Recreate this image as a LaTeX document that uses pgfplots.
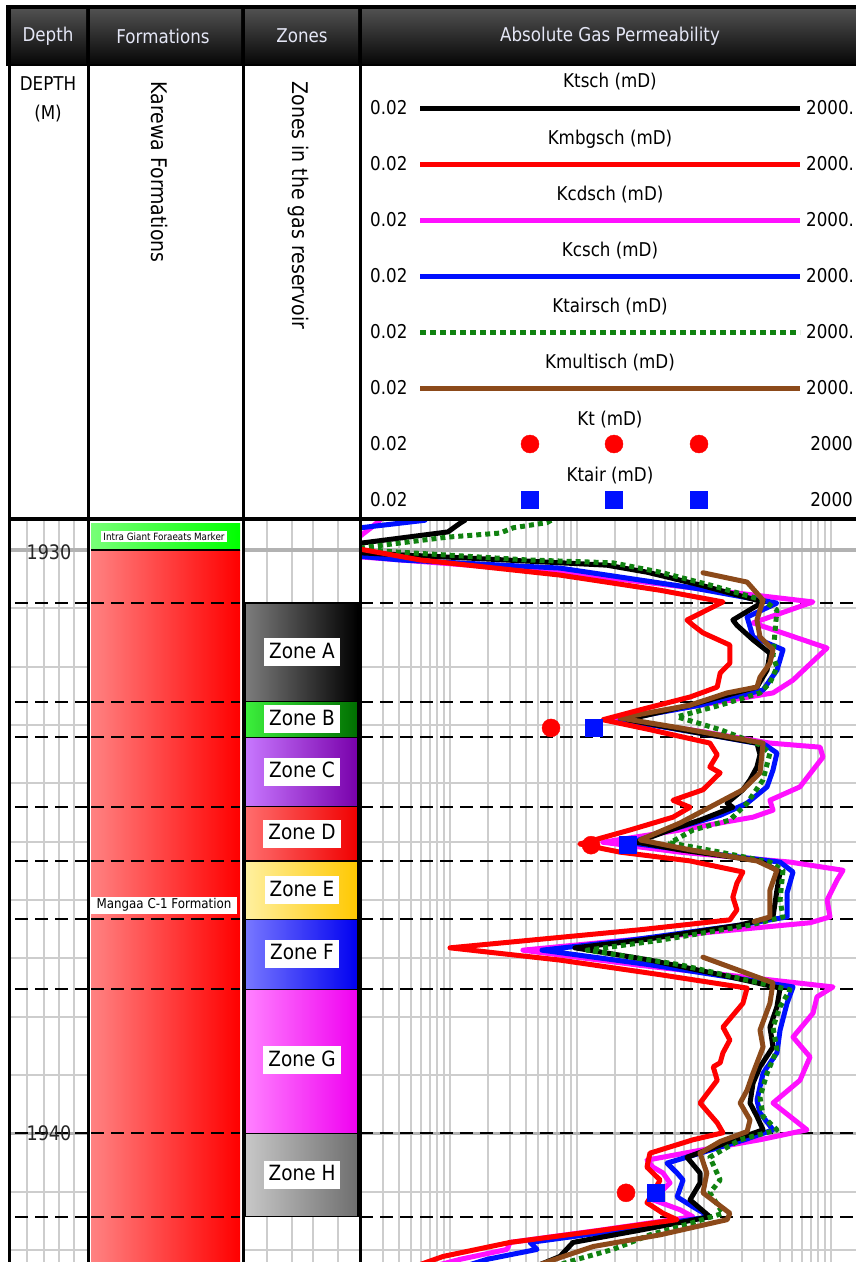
\documentclass[border=0pt]{standalone}
\usepackage{fontspec}
\setmainfont{DejaVu Sans}[FakeStretch=0.88]
\usepackage{pgfplots}
\pgfplotsset{compat=1.18}
\definecolor{gridgray}{RGB}{205,205,205}
\definecolor{gridthick}{RGB}{178,178,178}
\definecolor{kgreen}{RGB}{16,130,16}
\definecolor{kbrown}{RGB}{140,74,26}
\definecolor{kblue}{RGB}{0,16,255}
\definecolor{kmag}{RGB}{255,16,255}
\definecolor{kred}{RGB}{255,0,0}
\definecolor{hdtop}{RGB}{80,80,80}
\definecolor{hdbot}{RGB}{8,8,8}
\definecolor{hdtext}{RGB}{228,230,245}
\newcommand{\hfont}{\fontsize{19}{22}\selectfont}
\newcommand{\zfont}{\fontsize{21}{24}\selectfont}
\newcommand{\zone}[6]{%
  \shade[left color=#3, right color=#4] (axis cs:2,#1) rectangle (axis cs:115,#2);
  \draw[black, line width=1.2pt] (axis cs:2,#1) rectangle (axis cs:115,#2);
  \node[fill=white, inner xsep=5pt, inner ysep=5pt, text height=15pt, text depth=3pt, font=\zfont] at (axis cs:59,#6) {#5};}
\tikzset{
  zl/.style={black, line width=2pt, dash pattern=on 13pt off 7pt},
  crv/.style={line width=5pt, line join=round, line cap=round}
}
\pgfplotsset{
  track/.style={anchor=north west, scale only axis, height=742pt,
    ymin=1929.486, ymax=1942.206, y dir=reverse,
    axis line style={draw=none}, major tick length=0pt, minor tick length=0pt,
    xticklabels={}, yticklabels={},
    ytick={1930,...,1942}, ymajorgrids,
    grid style={draw=gridgray, line width=2pt},
    extra y ticks={1930,1940}, extra y tick labels={},
    extra y tick style={grid=major, major grid style={draw=gridthick, line width=3.5pt}}}
}
\begin{document}
\begin{tikzpicture}
\path[use as bounding box] (0pt,0pt) rectangle (856pt,-1262pt);
\begin{scope}[x=1pt,y=-1pt]
\fill[black] (6,5) rectangle (856,66);
\foreach \a/\b in {11/86,90/241,245/358,362/856} {\shade[top color=hdtop,bottom color=hdbot] (\a,9) rectangle (\b,63);}
\node[text=hdtext,font=\hfont] at (48,36) {Depth};
\node[text=hdtext,font=\hfont] at (163,36) {Formations};
\node[text=hdtext,font=\hfont] at (302,36) {Zones};
\node[text=hdtext,font=\hfont] at (610,36) {Absolute Gas Permeability};
\node[font=\hfont] at (48,84) {DEPTH};
\node[font=\hfont] at (48,114) {(M)};
\node[font=\fontsize{21.5}{24}\selectfont, rotate=-90, anchor=west] at (160,78) {Karewa Formations};
\node[font=\fontsize{21.5}{24}\selectfont, rotate=-90, anchor=west] at (298,78) {Zones in the gas reservoir};
\end{scope}

% legend of the permeability track
\begin{axis}[at={(360pt,-65pt)}, anchor=north west, scale only axis, width=496pt, height=452pt,
  xmin=360, xmax=856, ymin=65, ymax=517, y dir=reverse, hide axis, clip=false]
\addplot[black, line width=5pt] coordinates {(420,108) (800,108)};
\addplot[kred, line width=5pt] coordinates {(420,164) (800,164)};
\addplot[kmag, line width=5pt] coordinates {(420,220) (800,220)};
\addplot[kblue, line width=5pt] coordinates {(420,276) (800,276)};
\addplot[kgreen, line width=5pt, dash pattern=on 6pt off 4pt] coordinates {(420,332) (800,332)};
\addplot[kbrown, line width=5pt] coordinates {(420,388) (800,388)};
\addplot[only marks, mark=*, mark size=9pt, color=kred] coordinates {(530,444) (614,444) (699,444)};
\addplot[only marks, mark=square*, mark size=8.5pt, color=kblue] coordinates {(530,500) (614,500) (699,500)};
\node[font=\hfont] at (axis cs:610,82) {Ktsch (mD)};
\node[font=\hfont] at (axis cs:610,139) {Kmbgsch (mD)};
\node[font=\hfont] at (axis cs:610,195) {Kcdsch (mD)};
\node[font=\hfont] at (axis cs:610,251) {Kcsch (mD)};
\node[font=\hfont] at (axis cs:610,307) {Ktairsch (mD)};
\node[font=\hfont] at (axis cs:610,363) {Kmultisch (mD)};
\node[font=\hfont] at (axis cs:610,420) {Kt (mD)};
\node[font=\hfont] at (axis cs:610,476) {Ktair (mD)};
\pgfplotsinvokeforeach{108,164,220,276,332,388,444,500}{
  \node[font=\hfont, anchor=west, inner sep=0pt] at (axis cs:370,#1) {0.02};}
\pgfplotsinvokeforeach{108,164,220,276,332,388}{
  \node[font=\hfont, anchor=west, inner sep=0pt] at (axis cs:806,#1) {2000.};}
\pgfplotsinvokeforeach{444,500}{
  \node[font=\hfont, anchor=east, inner sep=0pt] at (axis cs:853,#1) {2000};}
\end{axis}

% depth track
\begin{axis}[track, at={(9pt,-520pt)}, width=79pt, xmin=0, xmax=79,
  xtick={18,35,50,65}, xmajorgrids]
\pgfplotsinvokeforeach{1930.91,1932.60,1933.21,1934.40,1935.33,1936.33,1937.53,1940.00,1941.43}{
  \draw[zl] (axis cs:6,#1) -- (axis cs:79,#1);}
\node[font=\fontsize{20}{24}\selectfont, text=black!85] at (axis cs:40,1930.03) {1930};
\node[font=\fontsize{20}{24}\selectfont, text=black!85] at (axis cs:40,1940.0) {1940};
\end{axis}

% formation track
\begin{axis}[track, at={(88pt,-520pt)}, width=155pt, xmin=0, xmax=155, ymajorgrids=false,
  extra y ticks={}]
\shade[left color={rgb,255:red,120;green,255;blue,120}, right color={rgb,255:red,0;green,255;blue,0}]
  (axis cs:3,1929.54) rectangle (axis cs:152,1930.0);
\shade[left color={rgb,255:red,255;green,130;blue,130}, right color={rgb,255:red,255;green,0;blue,0}]
  (axis cs:3,1930.0) rectangle (axis cs:152,1942.3);
\draw[black, line width=1.5pt] (axis cs:3,1930.0) -- (axis cs:152,1930.0);
\pgfplotsinvokeforeach{1930.91,1932.60,1933.21,1934.40,1935.33,1936.33,1937.53,1940.00,1941.43}{
  \draw[zl] (axis cs:3,#1) -- (axis cs:152,#1);}
\node[fill=white, inner xsep=2pt, inner ysep=1.5pt, font=\fontsize{10}{11}\selectfont] at (axis cs:76,1929.77) {Intra Giant Foraeats Marker};
\node[fill=white, inner xsep=1pt, inner ysep=2pt, font=\fontsize{13.5}{15}\selectfont, minimum width=146pt] at (axis cs:76,1936.09) {Mangaa C-1 Formation};
\end{axis}

% zones track
\begin{axis}[track, at={(243pt,-520pt)}, width=117pt, xmin=0, xmax=117,
  xtick={24,49,70,95}, xmajorgrids]
\zone{1930.91}{1932.60}{{rgb,255:red,125;green,125;blue,125}}{black}{Zone A}{1931.75}
\zone{1932.60}{1933.21}{{rgb,255:red,60;green,240;blue,60}}{{rgb,255:red,0;green,110;blue,0}}{Zone B}{1932.90}
\zone{1933.21}{1934.40}{{rgb,255:red,200;green,120;blue,255}}{{rgb,255:red,120;green,0;blue,170}}{Zone C}{1933.80}
\zone{1934.40}{1935.33}{{rgb,255:red,255;green,110;blue,110}}{{rgb,255:red,240;green,0;blue,0}}{Zone D}{1934.86}
\zone{1935.33}{1936.33}{{rgb,255:red,255;green,240;blue,160}}{{rgb,255:red,255;green,200;blue,0}}{Zone E}{1935.83}
\zone{1936.33}{1937.53}{{rgb,255:red,120;green,120;blue,255}}{{rgb,255:red,0;green,0;blue,240}}{Zone F}{1936.92}
\zone{1937.53}{1940.00}{{rgb,255:red,255;green,130;blue,255}}{{rgb,255:red,240;green,0;blue,240}}{Zone G}{1938.75}
\zone{1940.00}{1941.43}{{rgb,255:red,200;green,200;blue,200}}{{rgb,255:red,110;green,110;blue,110}}{Zone H}{1940.71}
\end{axis}

% permeability track
\begin{axis}[track, at={(360pt,-520pt)}, width=496pt, xmode=log, xmin=0.197, xmax=1585,
  xtick={0.1,1,10,100,1000}, xmajorgrids, xminorgrids,
  minor grid style={draw=gridgray, line width=2pt}]
\pgfplotsinvokeforeach{1930.91,1932.60,1933.21,1934.40,1935.33,1936.33,1937.53,1940.00,1941.43}{
  \draw[zl] (axis cs:0.197,#1) -- (axis cs:1585,#1);}
% Kcdsch
\addplot[crv, kmag] coordinates {
(0.283,1929.49) (0.24,1929.62) (0.18,1929.83) (0.18,1930.03) (0.204,1930.12) (7.4,1930.38) (82.6,1930.65) (727,1930.89)
(245,1931.25) (938,1931.68) (506,1932.23) (352,1932.45) (93.8,1932.66) (19.3,1932.91)
(78.2,1933.08) (333,1933.31) (826,1933.38) (871,1933.55) (727,1933.77) (574,1934.06) (333,1934.29) (352,1934.46) (245,1934.58) (65.2,1934.80) (16.1,1935.01)
(65.2,1935.18) (479,1935.35) (1253,1935.49) (1123,1935.66) (938,1936.00) (989,1936.29) (689,1936.39) (65.2,1936.60) (3.78,1936.86) (31.6,1937.12) (1045,1937.49)
(782,1937.66) (727,1937.94) (506,1938.35) (689,1938.69) (574,1939.09) (352,1939.48) (652,1939.94)
(278,1940.11) (93.8,1940.29) (35.8,1940.46) (40.0,1940.58) (47.9,1940.68) (54.4,1940.85) (40.0,1941.14) (65.2,1941.31) (82.6,1941.43) (15.3,1941.66) (2.99,1941.87) (2.83,1941.99) (1.21,1942.16) (0.84,1942.25)};
% Kcsch
\addplot[crv, kblue] coordinates {
(0.64,1929.49) (0.34,1929.56) (0.197,1929.62) (0.17,1929.83) (0.18,1930.10) (0.407,1930.17) (7.4,1930.31) (82.6,1930.65) (378,1930.91)
(220,1931.15) (245,1931.49) (422,1931.71) (378,1932.06) (294,1932.40) (93.8,1932.66) (22.0,1932.91)
(93.8,1933.14) (305,1933.34) (378,1933.48) (352,1933.77) (316,1934.06) (220,1934.34) (135,1934.55) (54.4,1934.80) (26.3,1935.02)
(93.8,1935.18) (400,1935.35) (506,1935.52) (454,1935.88) (454,1936.29) (194,1936.43) (26.3,1936.69) (5.34,1936.86) (37.8,1937.11) (506,1937.49)
(454,1937.77) (400,1938.23) (378,1938.62) (294,1938.97) (263,1939.43) (278,1939.65) (352,1939.94)
(210,1940.11) (93.8,1940.34) (51.5,1940.51) (61.8,1940.68) (68.9,1940.80) (61.8,1941.09) (82.6,1941.26) (112,1941.43) (22.0,1941.66) (4.30,1941.87) (4.88,1941.99) (1.97,1942.16) (1.45,1942.25)};
% Ktsch
\addplot[crv, black] coordinates {
(1.32,1929.49) (1.21,1929.54) (0.97,1929.69) (0.204,1929.88) (0.17,1929.97) (0.204,1930.05) (1.45,1930.14) (17.3,1930.26) (35.8,1930.38) (93.8,1930.60) (294,1930.89)
(170,1931.20) (183,1931.29) (245,1931.54) (333,1931.77) (316,1932.06) (263,1932.35) (78.2,1932.66) (24.9,1932.91)
(93.8,1933.14) (263,1933.31) (278,1933.51) (263,1933.72) (232,1933.94) (204,1934.11) (153,1934.34) (170,1934.41) (93.8,1934.63) (49.7,1934.83) (29.9,1935.01)
(65.2,1935.14) (278,1935.33) (400,1935.52) (378,1935.83) (352,1936.29) (194,1936.43) (31.6,1936.69) (9.71,1936.82) (37.8,1937.03) (135,1937.28) (400,1937.51)
(378,1937.83) (333,1938.18) (352,1938.52) (278,1938.86) (245,1939.14) (232,1939.48) (263,1939.71) (294,1939.94)
(176,1940.11) (74.0,1940.41) (93.8,1940.68) (93.8,1940.85) (78.2,1941.14) (112,1941.43) (31.6,1941.66) (9.37,1941.87) (7.40,1942.11) (5.15,1942.25)};
% Ktairsch
\addplot[crv, kgreen, line cap=butt, dash pattern=on 5pt off 4pt] coordinates {
(6.3,1929.49) (5.85,1929.53) (3.16,1929.62) (2.49,1929.71) (0.954,1929.78) (0.224,1929.95) (0.19,1929.98) (0.358,1930.03) (4.07,1930.17) (19.3,1930.22) (45.4,1930.38) (112,1930.60) (294,1930.86)
(378,1931.03) (365,1931.40) (352,1931.83) (378,1932.01) (333,1932.28) (278,1932.45) (135,1932.66) (61.8,1932.86)
(135,1933.08) (278,1933.34) (333,1933.48) (294,1933.94) (220,1934.34) (161,1934.63) (82.6,1934.80) (54.4,1935.02)
(135,1935.18) (333,1935.35) (422,1935.49) (400,1936.00) (422,1936.29) (232,1936.43) (45.4,1936.69) (12.1,1936.86) (65.2,1937.11) (479,1937.54)
(400,1937.83) (352,1938.18) (378,1938.57) (316,1938.97) (278,1939.38) (294,1939.71) (378,1939.94)
(194,1940.11) (112,1940.41) (135,1940.80) (112,1941.02) (142,1941.37) (82.6,1941.53) (37.8,1941.74) (19.3,1941.99) (10.1,1942.16) (7.4,1942.25)};
% Kmultisch
\addplot[crv, kbrown] coordinates {
(98.9,1930.39) (220,1930.55) (294,1930.86) (263,1931.20) (278,1931.49) (352,1931.71) (333,1931.94) (278,1932.18) (263,1932.35) (153,1932.45) (78.2,1932.66) (22.0,1932.88)
(65.2,1933.05) (294,1933.31) (278,1933.82) (204,1934.11) (142,1934.29) (65.2,1934.68) (31.6,1934.97) (78.2,1935.14) (263,1935.33) (378,1935.49) (333,1935.83) (333,1936.29) (250,1936.37)};
\addplot[crv, kbrown] coordinates {
(98.9,1936.98) (352,1937.42) (333,1937.77) (278,1938.23) (294,1938.52) (245,1938.97) (220,1939.26) (194,1939.48) (232,1939.77) (220,1939.97) (135,1940.14) (93.8,1940.34) (106,1940.68) (98.9,1941.02) (161,1941.37) (153,1941.48) (45.4,1941.74) (13.5,1941.94) (7.4,1942.13) (5.15,1942.25)};
% Kmbgsch
\addplot[crv, kred] coordinates {
(0.18,1929.62) (0.18,1929.97) (0.585,1930.17) (7.4,1930.43) (45.4,1930.69) (142,1930.89)
(74.0,1931.20) (82.6,1931.29) (98.9,1931.42) (161,1931.63) (161,1931.94) (135,1932.11) (128,1932.35) (78.2,1932.52) (31.6,1932.74) (16.1,1932.91)
(37.8,1933.08) (112,1933.31) (128,1933.51) (112,1933.72) (135,1933.82) (98.9,1934.11) (57.4,1934.29) (78.2,1934.41) (57.4,1934.58) (26.3,1934.80) (10.6,1935.04)
(22.0,1935.18) (78.2,1935.33) (204,1935.52) (183,1935.71) (170,1935.95) (183,1936.17) (161,1936.34) (31.6,1936.51) (1.007,1936.82) (7.4,1937.03) (45.4,1937.28) (220,1937.51)
(204,1937.77) (142,1938.18) (161,1938.40) (142,1938.62) (135,1938.79) (119,1938.86) (128,1939.09) (93.8,1939.48) (128,1939.82) (142,1939.99)
(82.6,1940.11) (37.8,1940.34) (35.8,1940.58) (45.4,1940.80) (40.0,1941.02) (35.8,1941.19) (47.9,1941.37) (61.8,1941.48) (12.7,1941.69) (2.99,1941.87) (0.89,1942.11) (0.585,1942.25)};
% Kt and Ktair core points
\addplot[only marks, mark=*, mark size=9pt, color=kred] coordinates {(6.29,1933.05) (13.0,1935.06) (24.5,1941.02)};
\addplot[only marks, mark=square*, mark size=8.5pt, color=kblue] coordinates {(13.7,1933.05) (25.4,1935.06) (42.2,1941.02)};
\end{axis}

\begin{scope}[x=1pt,y=-1pt]
\draw[black,line width=3pt] (9.5,63) -- (9.5,1262);
\draw[black,line width=3pt] (88,63) -- (88,1262);
\draw[black,line width=3pt] (243,63) -- (243,1262);
\draw[black,line width=3pt] (360.5,63) -- (360.5,1262);
\draw[black,line width=4pt] (8,519) -- (856,519);
\end{scope}
\end{tikzpicture}
\end{document}
